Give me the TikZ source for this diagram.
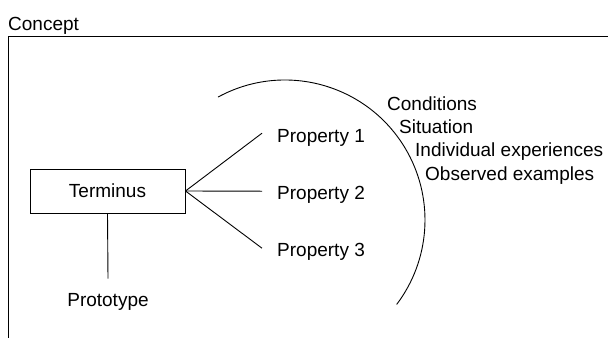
\documentclass[tikz,border=0pt]{standalone}
\usepackage{fontspec}
\setmainfont{Liberation Sans}
\begin{document}
\begin{tikzpicture}[x=1pt,y=-1pt,
  every node/.style={font=\fontsize{19}{22}\selectfont, inner sep=0pt, text=black},
  line/.style={line width=0.9pt, black},
  termbox/.style={draw, line width=1pt, minimum width=155pt, minimum height=44pt, inner sep=0pt},
  label/.style={anchor=base west},
  prop/.style={anchor=base west, text height=13.6pt, text depth=0pt}]
\useasboundingbox (0,0) rectangle (608,338);
% frame
\node[label] (concept) at (8,30) {Concept};
\coordinate (fa) at (8,36);
\coordinate (fb) at (608,36);
\coordinate (fc) at (8,338);
\draw[line] (fb) -- (fa) -- (fc);
% terminus
\node[termbox] (T) at (107.5,191) {Terminus};
\node[prop] (p1) at (277,142) {Property 1};
\node[prop] (p2) at (277,199) {Property 2};
\node[prop] (p3) at (277,256) {Property 3};
\draw[line] (T.east) -- ([xshift=-15pt,yshift=2pt]p1.west);
\draw[line] (T.east) -- ([xshift=-15pt,yshift=1pt]p2.west);
\draw[line] (T.east) -- ([xshift=-15pt,yshift=1pt]p3.west);
\node[prop, anchor=base] (proto) at (108,306.5) {Prototype};
\draw[line] (T.south) -- ([yshift=14pt]proto.north);
% arc
\coordinate (C) at (285,220);
\draw[line] ([shift={(118.6:140pt)}]C) arc[start angle=118.6, end angle=-37.1, radius=140pt];
% context
\node[label] (c1) at (387,110) {Conditions};
\node[label] (c2) at (399,133) {Situation};
\node[label] (c3) at (415,156.5) {Individual experiences};
\node[label] (c4) at (425,180) {Observed examples};
\end{tikzpicture}
\end{document}
